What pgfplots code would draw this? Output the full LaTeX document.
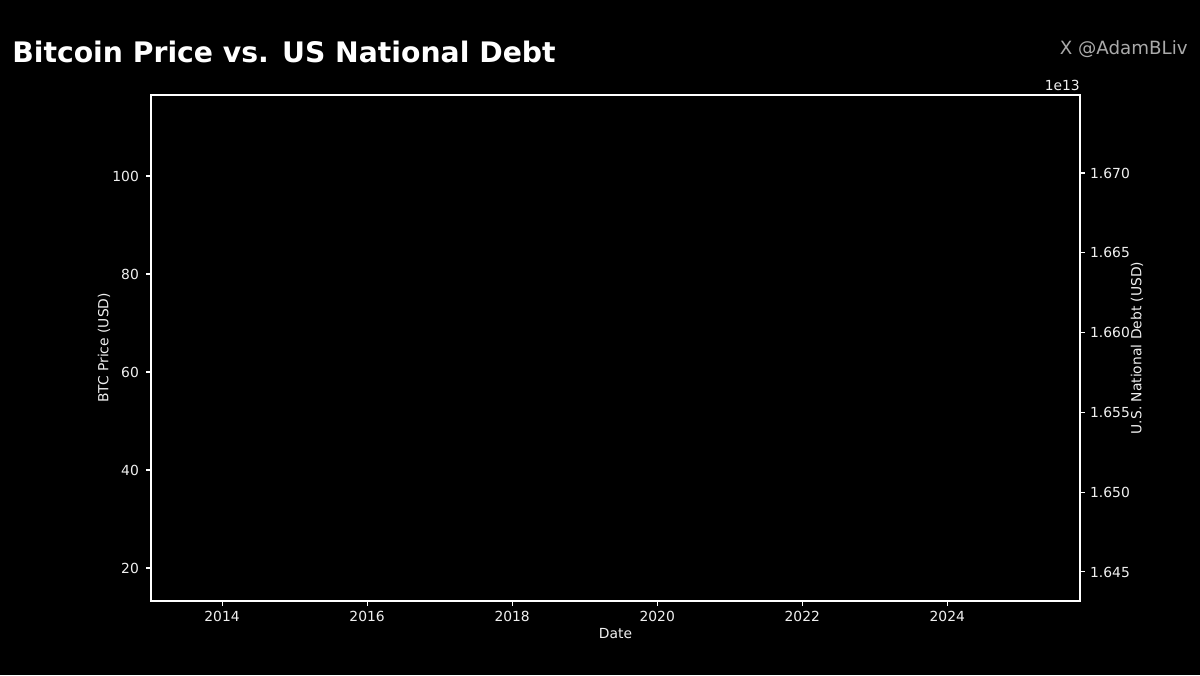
\documentclass[border=0pt]{standalone}
\usepackage{fontspec}
\setmainfont{DejaVu Sans}
\usepackage{pgfplots}
\pgfplotsset{compat=1.18}
\definecolor{wm}{HTML}{AAAAAA}
\definecolor{tk}{HTML}{F0F0F0}
\begin{document}
\begin{tikzpicture}[x=1pt,y=1pt]
\fill[black] (0,0) rectangle (900,506.25);
\path[use as bounding box] (0,0) rectangle (900,506.25);
\node[anchor=base west, inner sep=0, text=white, font=\fontsize{21.2}{25}\selectfont\bfseries] at (9,459.5) {Bitcoin Price vs. US National Debt};
\node[anchor=base east, inner sep=0, text=wm, font=\fontsize{13.7}{16}\selectfont] at (891,465) {X @AdamBLiv};
\pgfplotsset{
  every axis/.append style={
    scale only axis, width=696.75pt, height=379.5pt,
    at={(113.25pt,55.5pt)}, anchor=south west,
    axis line style={white, line width=0.8pt},
    tick style={white, line width=0.8pt},
    tick align=outside, major tick length=3.6pt,
    ticklabel style={text=tk, font=\fontsize{10.4}{12}\selectfont},
    label style={text=tk, font=\fontsize{10.4}{12}\selectfont},
    /pgf/number format/assume math mode=true,
    /pgf/number format/1000 sep={},
  }
}
\begin{axis}[
  xmin=2013.02, xmax=2025.83,
  ymin=13.27, ymax=116.53,
  xtick={2014,2016,...,2024},
  ytick={20,40,...,100},
  xtick pos=bottom, ytick pos=left,
  xticklabel style={yshift=-0.4pt},
  yticklabel style={xshift=-2pt},
  xlabel={Date},
  ylabel={BTC Price (USD)},
  xlabel style={at={(rel axis cs:0.5,0)}, anchor=center, yshift=-24.75pt},
  ylabel style={at={(rel axis cs:0,0.5)}, anchor=center, yshift=35.25pt},
]
\end{axis}
\begin{axis}[
  xmin=2013.02, xmax=2025.83,
  ymin=1.64318, ymax=1.67489,
  axis x line=none,
  axis y line*=right,
  ytick={1.645,1.650,1.655,1.660,1.665,1.670},
  yticklabel style={xshift=0.5pt, /pgf/number format/fixed, /pgf/number format/precision=3, /pgf/number format/fixed zerofill},
  ylabel={U.S. National Debt (USD)},
  ylabel style={at={(rel axis cs:1,0.5)}, anchor=center, yshift=-42.75pt},
  clip=false,
]
\node[anchor=base east, inner sep=0, text=tk, font=\fontsize{10.4}{12}\selectfont] at (rel axis cs:1,1) [yshift=3pt] {1e13};
\end{axis}
\end{tikzpicture}
\end{document}
